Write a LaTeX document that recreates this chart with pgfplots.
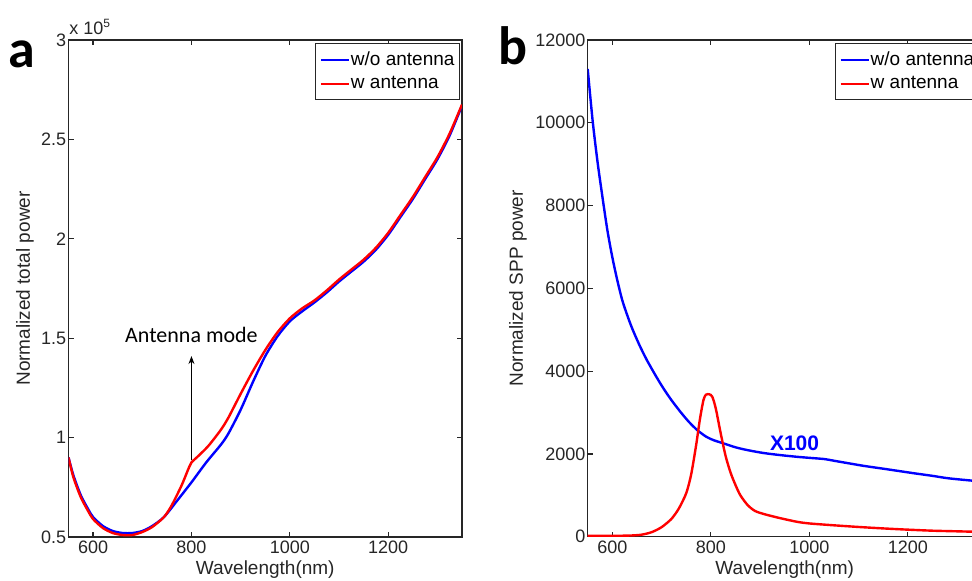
\documentclass[border=0pt]{standalone}
\usepackage{pgfplots}
\pgfplotsset{compat=1.18}
\usepackage{fontspec}
\setmainfont{Liberation Sans}
\newfontfamily\calibri{Carlito}
\usetikzlibrary{arrows.meta}
\definecolor{axgray}{RGB}{38,38,38}

\pgfplotstableread{
nm val
550 0.90
560 0.81
575 0.71
590 0.64
600 0.60
620 0.555
640 0.53
660 0.52
680 0.52
700 0.53
720 0.555
744 0.60
770 0.68
800 0.775
830 0.875
860 0.965
875 1.02
900 1.14
925 1.28
950 1.41
975 1.51
1000 1.585
1025 1.635
1050 1.68
1075 1.73
1100 1.785
1125 1.835
1150 1.885
1175 1.945
1200 2.02
1225 2.11
1250 2.20
1275 2.30
1300 2.40
1325 2.52
1350 2.67
}\tabAwo

\pgfplotstableread{
nm val
550 0.90
560 0.80
575 0.70
590 0.63
600 0.59
620 0.545
640 0.52
660 0.51
680 0.51
700 0.525
720 0.55
744 0.60
760 0.66
780 0.76
795 0.85
800 0.875
815 0.91
835 0.96
860 1.04
875 1.10
900 1.22
925 1.335
950 1.44
975 1.53
1000 1.60
1025 1.65
1050 1.69
1075 1.74
1100 1.795
1125 1.845
1150 1.895
1175 1.955
1200 2.03
1225 2.12
1250 2.21
1275 2.31
1300 2.41
1325 2.53
1350 2.675
}\tabAw

\pgfplotstableread{
nm val
550 11300
560 10050
570 9050
580 8200
590 7400
600 6750
610 6200
620 5720
630 5360
640 5040
655 4630
670 4270
690 3850
705 3560
720 3300
738 3020
755 2780
772 2580
790 2420
806 2330
827 2250
850 2160
875 2090
908 2020
942 1970
975 1930
1000 1905
1031 1875
1050 1835
1079 1775
1110 1712
1146 1650
1180 1590
1214 1530
1250 1470
1283 1410
1334 1350
1350 1330
}\tabBwo

\pgfplotstableread{
nm val
550 20
600 20
640 30
660 50
680 110
700 230
720 430
735 680
750 1050
760 1500
770 2200
778 2850
785 3300
790 3430
797 3440
803 3380
810 3100
820 2500
830 1950
840 1550
850 1250
860 1000
875 760
890 620
910 540
940 450
975 360
1000 320
1050 275
1100 235
1150 200
1200 170
1250 145
1300 130
1350 115
}\tabBw

\pgfplotsset{
  mystyle/.style={
    scale only axis,
    anchor=south west,
    xmin=550, xmax=1350,
    xtick={600,800,1000,1200},
    axis line style={axgray, line width=0.6pt},
    major tick style={axgray, line width=0.6pt},
    major tick length=2.5pt,
    tick align=inside,
    /pgf/number format/assume math mode=true,
    /pgf/number format/1000 sep={},
    ticklabel style={font=\fontsize{9}{10}\selectfont, text=axgray},
    xticklabel style={inner sep=2pt},
    yticklabel style={inner xsep=1pt},
    label style={font=\fontsize{9.5}{11}\selectfont, text=axgray},
    xlabel={Wavelength(nm)},
    xlabel style={at={(axis description cs:0.5,-0.066)}, anchor=center},
    legend cell align=left,
    legend style={font=\fontsize{9.5}{11}\selectfont, draw=axgray, line width=0.5pt,
      inner xsep=2pt, inner ysep=2pt, row sep=0pt, column sep=0pt,
      nodes={inner xsep=0.5pt, inner ysep=2pt}},
    legend image code/.code={\draw[#1, line width=1.2pt] (0pt,0pt) -- (14pt,0pt);},
    every axis plot/.append style={line width=1.2pt, mark=none, smooth, tension=0.45},
  }
}

\begin{document}
\begin{tikzpicture}
\path[use as bounding box] (0,0) rectangle (486pt,290.5pt);
\begin{scope}
\clip (0,0) rectangle (486pt,290.5pt);

% Panel a
\begin{axis}[mystyle,
  at={(34.25pt,22pt)}, width=196.75pt, height=248.5pt,
  ymin=0.5, ymax=3,
  ytick={0.5,1,1.5,2,2.5,3},
  ylabel={Normalized total power},
  ylabel style={at={(axis description cs:-0.1105,0.5)}, anchor=center},
  legend style={at={(rel axis cs:0.995,0.994)}, anchor=north east},
]
\addplot[blue] table[x=nm, y=val] {\tabAwo};
\addlegendentry{w/o antenna}
\addplot[red] table[x=nm, y=val] {\tabAw};
\addlegendentry{w antenna}
\draw[black, line width=0.5pt, -{Stealth[length=4pt,width=3pt]}] (axis cs:800,0.885) -- (axis cs:800,1.41);
\node[anchor=base, font=\calibri\fontsize{11}{12}\selectfont, inner sep=0pt] at (axis cs:800,1.476) {Antenna mode};
\end{axis}

% Panel b
\begin{axis}[mystyle,
  at={(293.85pt,22.15pt)}, width=197pt, height=248.35pt,
  ymin=0, ymax=12000,
  ytick={0,2000,4000,6000,8000,10000,12000},
  scaled y ticks=false,
  ylabel={Normalized SPP power},
  ylabel style={at={(axis description cs:-0.177,0.5)}, anchor=center},
  legend style={at={(rel axis cs:0.995,0.994)}, anchor=north east},
]
\addplot[blue] table[x=nm, y=val] {\tabBwo};
\addlegendentry{w/o antenna}
\addplot[red] table[x=nm, y=val] {\tabBw};
\addlegendentry{w antenna}
\node[anchor=center, font=\bfseries\fontsize{10.5}{12}\selectfont, text=blue, inner sep=0pt] at (axis cs:970,2260) {X100};
\end{axis}

% annotations outside axes
\node[anchor=base west, inner sep=0pt, text=axgray, font=\fontsize{9}{10}\selectfont] at (34.5pt,273pt) {x 10\textsuperscript{5}};
\node[anchor=base west, inner sep=0pt, font=\calibri\bfseries\fontsize{27}{30}\selectfont] at (4pt,256.5pt) {a};
\node[anchor=base west, inner sep=0pt, font=\calibri\bfseries\fontsize{27}{30}\selectfont] at (249pt,258pt) {b};
\end{scope}
\end{tikzpicture}
\end{document}
